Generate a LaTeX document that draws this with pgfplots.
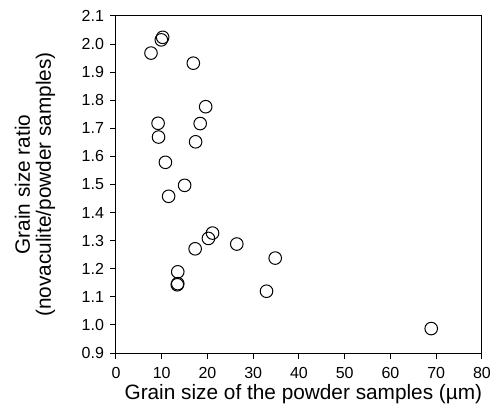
\documentclass[border=0pt]{standalone}
\usepackage{fontspec}
\setmainfont{Liberation Sans}
\usepackage{pgfplots}
\pgfplotsset{compat=1.18}
\begin{document}
\begin{tikzpicture}
\path[use as bounding box] (-116pt,-64pt) rectangle (384pt,353pt);
\begin{axis}[
 at={(0pt,0pt)}, anchor=south west,
 scale only axis, width=366pt, height=337pt,
 xmin=0, xmax=80, ymin=0.9, ymax=2.1,
 xtick={0,10,...,80},
 ytick={0.9,1.0,1.1,1.2,1.3,1.4,1.5,1.6,1.7,1.8,1.9,2.0,2.1},
 yticklabel style={xshift=-3pt, /pgf/number format/.cd, fixed, fixed zerofill, precision=1},
 /pgf/number format/assume math mode=true,
 tick label style={font=\fontsize{16}{18}\selectfont},
 xticklabel style={yshift=-5pt},
 xtick pos=bottom, ytick pos=left, tick align=outside,
 major tick length=5.5pt,
 every tick/.style={black, line width=1pt},
 axis line style={line width=1pt},
 xlabel={Grain size of the powder samples (µm)},
 ylabel={Grain size ratio\\(novaculite/powder samples)},
 every axis y label/.style={at={(axis description cs:-0.221,0.5)}, rotate=90, anchor=center, align=center, font=\fontsize{20.8}{21}\selectfont},
 every axis x label/.style={at={(axis description cs:0.512,0)}, anchor=base, yshift=-46pt, font=\fontsize{20.8}{24}\selectfont},
]
\addplot[only marks, mark=o, mark size=6.3pt, mark options={line width=1pt, black}] coordinates {
(7.65,1.968)
(10.2,2.024)
(9.9,2.015)
(16.9,1.932)
(19.6,1.777)
(9.2,1.718)
(18.4,1.717)
(9.3,1.669)
(17.4,1.652)
(10.8,1.579)
(15.0,1.497)
(11.5,1.458)
(21.1,1.327)
(20.2,1.308)
(26.4,1.288)
(17.3,1.271)
(34.8,1.238)
(13.5,1.189)
(13.5,1.147)
(13.4,1.143)
(32.9,1.120)
(68.9,0.987)
};
\end{axis}
\end{tikzpicture}
\end{document}
